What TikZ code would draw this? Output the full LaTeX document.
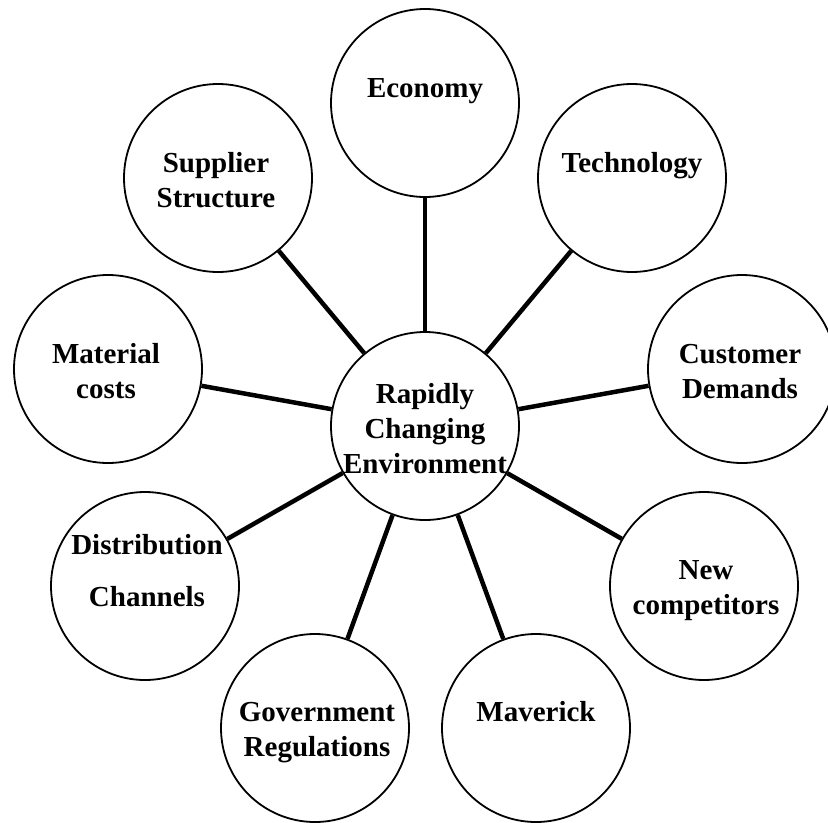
\documentclass[tikz,border=0pt]{standalone}
\usepackage{fontspec}
\setmainfont{Liberation Serif}
\begin{document}
\begin{tikzpicture}[x=1bp,y=-1bp,
  topic/.style={circle,draw,line width=1.8bp,minimum size=188bp,inner sep=0pt},
  caption/.style={font=\bfseries\fontsize{29bp}{35bp}\selectfont,align=center,anchor=base,inner sep=0pt},
  link/.style={line width=4.5bp}]
\useasboundingbox (0,0) rectangle (828,823);
\clip (0,0) rectangle (828,823);

% circles
\node[topic] (hub)  at (425,426) {};
\node[topic] (econ) at (425,103) {};
\node[topic] (tech) at (632,178) {};
\node[topic] (supp) at (218,178) {};
\node[topic] (matl) at (108,369) {};
\node[topic] (cust) at (742,369) {};
\node[topic] (dist) at (145,586) {};
\node[topic] (newc) at (704,586) {};
\node[topic] (govt) at (315,728) {};
\node[topic] (mave) at (536,728) {};

% spokes
\foreach \t in {econ,tech,supp,matl,cust,dist,newc,govt,mave}
  \draw[link] (hub) -- (\t);

% captions (placed by the baseline of their last line)
\node[caption] (hubtxt)  at (425,473) {Rapidly\\Changing\\Environment};
\node[caption] (econtxt) at (425,97)  {Economy};
\node[caption] (techtxt) at (632,172) {Technology};
\node[caption] (supptxt) at (216,207) {Supplier\\Structure};
\node[caption] (matltxt) at (106,398) {Material\\costs};
\node[caption] (custtxt) at (740,398) {Customer\\Demands};
\node[caption] (disttxt) at (147,606) {Distribution\\[17bp]Channels};
\node[caption] (newctxt) at (706,614) {New\\competitors};
\node[caption] (govttxt) at (317,756) {Government\\Regulations};
\node[caption] (mavetxt) at (536,721) {Maverick};
\end{tikzpicture}
\end{document}
